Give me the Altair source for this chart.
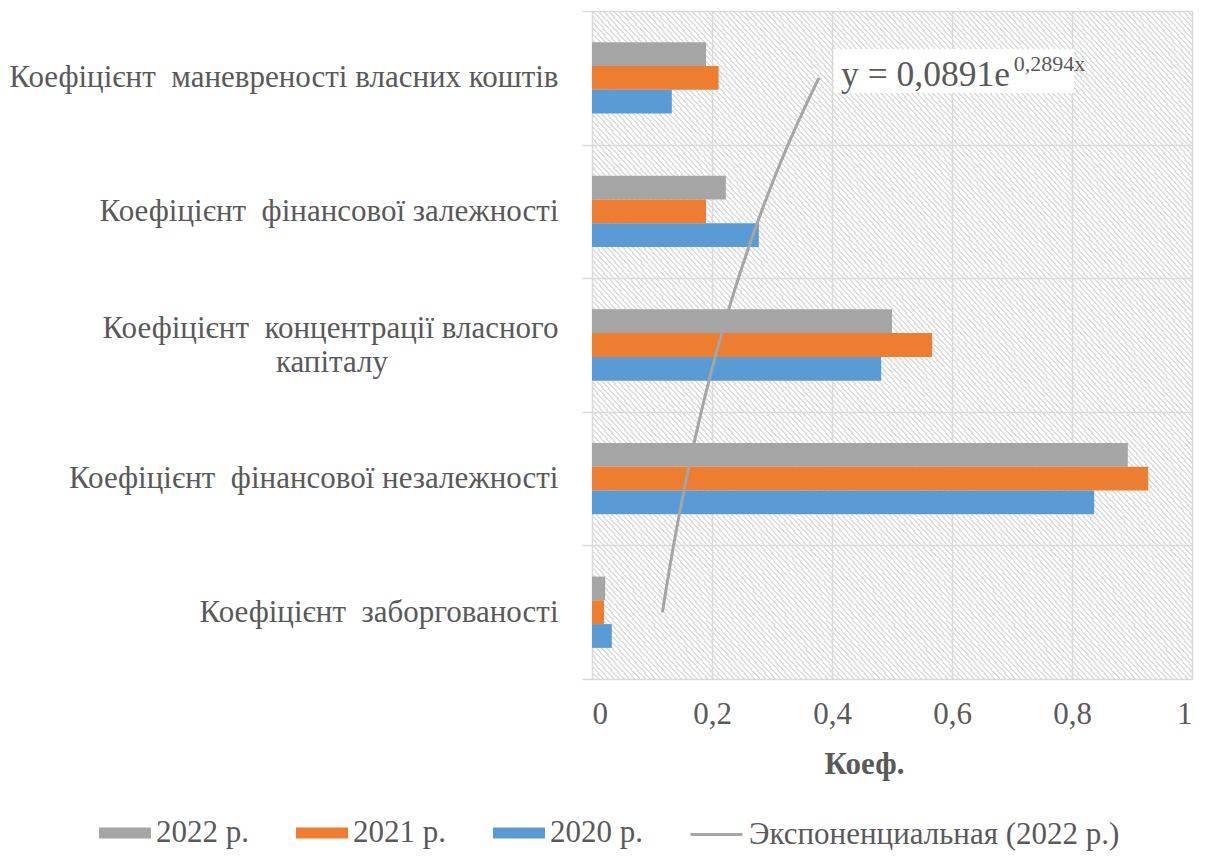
import altair as alt
import pandas as pd

# ---------------- data ----------------
categories = [
    "Коефіцієнт  маневреності власних коштів",
    "Коефіцієнт  фінансової залежності",
    "Коефіцієнт  концентрації власного капіталу",
    "Коефіцієнт  фінансової незалежності",
    "Коефіцієнт  заборгованості",
]
cat_index = [5, 4, 3, 2, 1]
years = ["2022 р.", "2021 р.", "2020 р."]
values_2022 = [0.19, 0.223, 0.50, 0.893, 0.022]
values_2021 = [0.211, 0.19, 0.567, 0.927, 0.020]
values_2020 = [0.133, 0.278, 0.482, 0.837, 0.033]
colors = ["#A5A5A5", "#ED7D31", "#5B9BD5"]
x_ticks = [0, 0.2, 0.4, 0.6, 0.8, 1]
x_title = "Коеф."
trend_label = "Экспоненциальная (2022 р.)"
eq_main = "y = 0,0891e"
eq_sup = "0,2894x"

rows = []
for yr, vals in zip(years, [values_2022, values_2021, values_2020]):
    for c, i, v in zip(categories, cat_index, vals):
        rows.append({"category": c, "idx": i, "year": yr, "value": v})
df = pd.DataFrame(rows)

# ---------------- style ----------------
FONT = "Liberation Serif"
TXT = "#595959"
GRID = "#D9D9D9"
FS = 31
W, H = 600, 668

NBSP = "\u00a0"
ZWSP = "\u200b"
conc = categories[2]
conc_lines = ["Коефіцієнт" + NBSP + " концентрації власного", "капіталу" + NBSP * 22 + ZWSP]
label_expr = (
    "!isValid(datum.value) ? '' : datum.value == '" + conc + "' ? ['" + conc_lines[0] + "', '"
    + conc_lines[1] + "'] : replace(datum.value, '  ', '" + NBSP + " ')"
)

# hatch background as striped linear gradient
N = 230
stop_parts = []
for k in range(N):
    a, b, c = k / N, (k + 0.38) / N, (k + 1) / N
    stop_parts.append("{offset:%.5f,color:'#DDDDDD'}" % a)
    stop_parts.append("{offset:%.5f,color:'#DDDDDD'}" % b)
    stop_parts.append("{offset:%.5f,color:'#FFFFFF'}" % b)
    stop_parts.append("{offset:%.5f,color:'#FFFFFF'}" % c)
grad_expr = "{gradient:'linear',x1:0,y1:1,x2:1,y2:0,stops:[" + ",".join(stop_parts) + "]}"

xscale = alt.Scale(domain=[0, 1], nice=False, zero=True)
idx_scale = alt.Scale(domain=[0.5, 5.5], nice=False, zero=False)
offset_domain = ["pad_top"] + years + ["pad_bottom"]

bars = alt.Chart(df).mark_bar().encode(
    x=alt.X(
        "value:Q",
        scale=xscale,
        axis=alt.Axis(
            values=x_ticks, format=".1~f", labelExpr="replace(datum.label, '.', ',')",
            grid=True, gridColor=GRID, gridWidth=1.5, ticks=False, domain=False,
            labelFont=FONT, labelFontSize=FS, labelColor=TXT, labelPadding=20,
            title=x_title, titleFont=FONT, titleFontSize=FS, titleFontWeight="bold",
            titleColor=TXT, titlePadding=20, titleX=272,
        ),
    ),
    y=alt.Y(
        "category:N",
        sort=categories,
        scale=alt.Scale(paddingInner=0, paddingOuter=0),
        axis=alt.Axis(
            title=None, grid=True, gridColor=GRID, gridWidth=1.5, tickBand="extent",
            tickSize=10, tickColor=GRID, tickWidth=1.5, domain=False,
            labelFont=FONT, labelColor=TXT, labelPadding=24,
            labelFontSize={"condition": {"test": "!isValid(datum.value)", "value": 0}, "value": FS},
            labelOffset={"condition": {"test": "datum.value == '" + conc + "'", "value": -17}, "value": 0},
            labelLimit=2000, labelExpr=label_expr, labelLineHeight=34,
        ),
    ),
    yOffset=alt.YOffset("year:N", scale=alt.Scale(domain=offset_domain, paddingInner=0, paddingOuter=0.31)),
    color=alt.Color(
        "year:N",
        sort=years,
        scale=alt.Scale(domain=years, range=colors),
        legend=alt.Legend(
            title=None, orient="none", legendX=-493, legendY=796, direction="horizontal",
            symbolType="M-1,-0.21H1V0.21H-1Z", symbolSize=2704, symbolStrokeWidth=0,
            labelFont=FONT, labelFontSize=FS, labelColor=TXT, labelOffset=5, labelLimit=1000,
            columnPadding=47, padding=0,
        ),
    ),
)

trend = (
    alt.Chart(df)
    .transform_filter(alt.datum.year == years[0])
    .transform_calculate(ln="log(datum.value)")
    .transform_regression("idx", "ln", method="poly", order=1)
    .transform_calculate(fit="exp(datum.ln)", series="'" + trend_label + "'")
    .mark_line(strokeWidth=3)
    .encode(
        x=alt.X("fit:Q", scale=xscale),
        y=alt.Y("idx:Q", scale=idx_scale, axis=None),
        order=alt.Order("idx:Q"),
        stroke=alt.Stroke(
            "series:N",
            scale=alt.Scale(domain=[trend_label], range=[colors[0]]),
            legend=alt.Legend(
                title=None, orient="none", legendX=97, legendY=796, direction="horizontal",
                symbolType="stroke", symbolSize=2704, symbolStrokeWidth=3,
                labelFont=FONT, labelFontSize=FS, labelColor=TXT, labelOffset=5,
                labelLimit=1000, padding=0,
            ),
        ),
    )
)

# equation annotation (positions in data units)
box_df = pd.DataFrame({"x0": [0.403], "x1": [0.803], "y0": [4.886], "y1": [5.216]})
eq_df = pd.DataFrame({"x": [0.415, 0.703], "y": [4.939, 5.051], "t": [eq_main, eq_sup], "s": [35.5, 22]})

box = alt.Chart(box_df).mark_rect(fill="white").encode(
    x=alt.X("x0:Q", scale=xscale), x2="x1:Q",
    y=alt.Y("y0:Q", scale=idx_scale, axis=None), y2="y1:Q",
)
eq_text = alt.Chart(eq_df).mark_text(
    align="left", baseline="alphabetic", font=FONT, color=TXT
).encode(
    x=alt.X("x:Q", scale=xscale),
    y=alt.Y("y:Q", scale=idx_scale, axis=None),
    text="t:N",
    size=alt.Size("s:Q", scale=None, legend=None),
)

chart = (
    alt.layer(bars, trend, box, eq_text)
    .resolve_scale(y="independent")
    .properties(width=W, height=H, padding={"left": 0, "top": 2, "right": 5, "bottom": 5},
                background="white")
    .configure_view(stroke=None, fill={"expr": grad_expr})
)

chart.save("out.html", embed_options={"renderer": "svg", "actions": False})
